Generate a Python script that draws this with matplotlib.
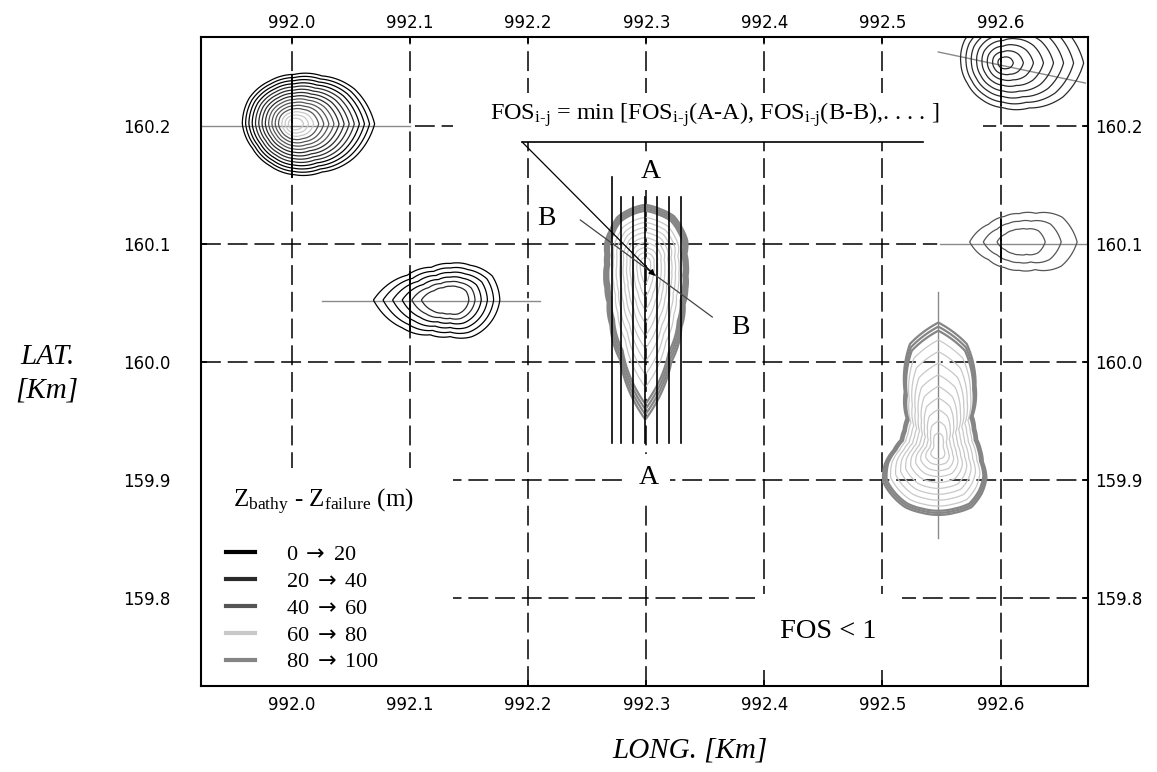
import numpy as np
import matplotlib
matplotlib.use("Agg")
import matplotlib.pyplot as plt
from matplotlib.lines import Line2D
from matplotlib.patches import Rectangle
import matplotlib.patheffects as pe
import matplotlib.transforms as mtransforms

# ---------------- data ----------------
x_ticks = [992.0, 992.1, 992.2, 992.3, 992.4, 992.5, 992.6]
y_ticks = [159.8, 159.9, 160.0, 160.1, 160.2]
x_limits = (991.923, 992.674)
y_limits = (159.7254, 160.2754)

# legend classes: Z_bathy - Z_failure (m)
class_labels = ["0 $\\mathsf{\\rightarrow}$ 20", "20 $\\mathsf{\\rightarrow}$ 40",
                "40 $\\mathsf{\\rightarrow}$ 60", "60 $\\mathsf{\\rightarrow}$ 80",
                "80 $\\mathsf{\\rightarrow}$ 100"]
class_bounds = [0, 20, 40, 60, 80, 100]
class_colors = ["#000000", "#2a2a2a", "#555555", "#c8c8c8", "#858585"]

# unstable cells (contour blobs): centre, outline radius (m) at equal angular steps from east, ccw
blob_cx = [992.002, 992.134, 992.6023, 992.6158, 992.5473, 992.2992]
blob_cy = [160.2017, 160.0525, 160.2534, 160.1017, 159.9254, 160.0822]
blob_radii_m = [
    [68, 59, 47, 42, 42, 44, 44, 41, 41, 43, 47, 58],
    [42, 41, 34, 31, 32, 42, 65, 47, 34, 31, 36, 39],
    [68, 59, 47, 38, 38, 38, 36, 35, 36, 38, 44, 58],
    [49, 42, 28, 24, 25, 30, 42, 30, 25, 24, 27, 41],
    [36, 34, 36, 41, 63, 93, 108, 93, 57, 38, 34, 33,
     38, 47, 54, 55, 56, 55, 55, 55, 56, 52, 47, 39],
    [36, 36, 41, 44, 48, 49, 51, 49, 47, 42, 39, 35,
     34, 36, 39, 45, 59, 83, 131, 85, 61, 47, 41, 37],
]
blob_edge_value = [1, 2, 21, 42, 82, 84]
blob_centre_value = [80, 42, 41, 56.5, 60, 60]
blob_levels = [
    [1, 6, 11, 16, 21, 26, 31, 36, 41, 46, 51, 56, 61, 66, 71],
    [2, 7, 12, 17, 22, 27],
    [21, 23.5, 26, 28.5, 31, 33.5, 36, 38.5],
    [42, 46, 50],
    [63, 65, 67, 69, 71, 73, 75, 77, 79, 80.6, 81.3, 82],
    [63, 65, 67, 69, 71, 73, 75, 77, 79, 81.6, 82.4, 83.2, 84],
]

# section lines through the cells
grey_sections = [
    ([991.923, 992.1], [160.2, 160.2]),
    ([992.0257, 992.2102], [160.0517, 160.0517]),
    ([992.5472, 992.6717], [160.2627, 160.2364]),
    ([992.549, 992.674], [160.1, 160.1]),
    ([992.5473, 992.5473], [160.0593, 159.8508]),
]
black_sections = [
    ([992.0, 992.0], [160.2432, 160.1568]),
    ([992.1, 992.1], [160.0763, 160.0271]),
    ([992.6, 992.6], [160.2754, 160.2178]),
    ([992.6, 992.6], [160.1203, 160.0847]),
]
aa_x = [992.271, 992.279, 992.289, 992.299, 992.309, 992.319, 992.329]
aa_top = [160.157, 160.140, 160.140, 160.140, 160.140, 160.140, 160.140]
aa_bottom = 159.931
bb_x = [992.2442, 992.3559]
bb_y = [160.1203, 160.0381]
pointer_start = (992.1949, 160.1864)
pointer_end = (992.3076, 160.0729)
underline_x = [992.1949, 992.5346]
underline_y = [160.1864, 160.1864]

# ---------------- style ----------------
plt.rcParams["mathtext.fontset"] = "custom"
plt.rcParams["mathtext.rm"] = "Liberation Serif"
plt.rcParams["mathtext.it"] = "Liberation Serif:italic"
plt.rcParams["mathtext.sf"] = "DejaVu Sans"
serif = "Liberation Serif"

fig = plt.figure(figsize=(11.57, 7.72), dpi=100)
ax = fig.add_axes([201 / 1157, 1 - 686 / 772, 887 / 1157, 649 / 772])
ax.set_xlim(*x_limits)
ax.set_ylim(*y_limits)


def class_color(v):
    for i in range(len(class_colors)):
        if class_bounds[i] <= v < class_bounds[i + 1]:
            return class_colors[i]
    return class_colors[-1]


for cx, cy, rad, ve, vc, levs in zip(blob_cx, blob_cy, blob_radii_m,
                                     blob_edge_value, blob_centre_value, blob_levels):
    angles = np.linspace(0, 2 * np.pi, len(rad), endpoint=False)
    rmax = max(rad) / 1000.0 * 1.3
    xs = np.linspace(cx - rmax, cx + rmax, 500)
    ys = np.linspace(cy - rmax, cy + rmax, 500)
    X, Y = np.meshgrid(xs, ys)
    dx = (X - cx) * 1000.0
    dy = (Y - cy) * 1000.0
    th = np.mod(np.arctan2(dy, dx), 2 * np.pi)
    R = np.interp(th, angles, np.array(rad, float), period=2 * np.pi)
    d = np.hypot(dx, dy) / R
    Z = ve + (vc - ve) * (1 - d)
    levs = sorted(levs)
    cols = [class_color(v) for v in levs]
    lws = [1.6 if v >= 80 else 0.9 for v in levs]
    ax.contour(X, Y, Z, levels=levs, colors=cols, linewidths=lws, zorder=2)

# grid
ax.set_xticks(x_ticks)
ax.set_yticks(y_ticks)
ax.set_xticklabels([f"{v:.1f}" for v in x_ticks])
ax.set_yticklabels([f"{v:.1f}" for v in y_ticks])
ax.grid(True, color="black", linestyle=(0, (13, 4.5)), linewidth=1.1)
ax.set_axisbelow(True)

# white masks (legend area and formula area)
ax.add_patch(Rectangle((0, 0), 0.284, 0.336, transform=ax.transAxes,
                       facecolor="white", edgecolor="none", zorder=1))
ax.add_patch(Rectangle((0.284, 0.838), 0.598, 0.076, transform=ax.transAxes,
                       facecolor="white", edgecolor="none", zorder=1))

for xs_, ys_ in grey_sections:
    ax.plot(xs_, ys_, color="#8a8a8a", lw=1.0, zorder=1.5,
            path_effects=[pe.withStroke(linewidth=4, foreground="white")])
for xs_, ys_ in black_sections:
    ax.plot(xs_, ys_, color="black", lw=1.3, zorder=2.5)

for x, top in zip(aa_x, aa_top):
    ax.plot([x, x], [aa_bottom, top], color="black", lw=1.2, zorder=3)
ax.plot(bb_x, bb_y, color="#444444", lw=0.9, zorder=3)
ax.plot(underline_x, underline_y, color="black", lw=1.2, zorder=3)
ax.annotate("", xy=pointer_end, xytext=pointer_start,
            arrowprops=dict(arrowstyle="-|>", color="black", lw=0.9,
                            mutation_scale=9, shrinkA=0, shrinkB=0), zorder=3)

# texts
ax.text(992.168, 160.2051,
        "FOS$_{\\mathrm{i\u2010j}}$ = min [FOS$_{\\mathrm{i\u2010j}}$(A-A), "
        "FOS$_{\\mathrm{i\u2010j}}$(B-B),. . . . ]",
        family=serif, fontsize=17.5, ha="left", va="baseline", zorder=4)
ax.text(992.3035, 160.161, "A", family=serif, fontsize=20, ha="center", va="center",
        bbox=dict(facecolor="white", edgecolor="none", pad=4), zorder=4)
ax.text(992.3018, 159.9017, "A", family=serif, fontsize=20, ha="center", va="center",
        bbox=dict(facecolor="white", edgecolor="none", pad=8), zorder=4)
ax.text(992.2155, 160.122, "B", family=serif, fontsize=20, ha="center", va="center", zorder=4)
ax.text(992.3796, 160.0288, "B", family=serif, fontsize=20, ha="center", va="center", zorder=4)
ax.text(992.4541, 159.7712, "FOS < 1", family=serif, fontsize=20.5, ha="center", va="center",
        bbox=dict(facecolor="white", edgecolor="none", pad=18), zorder=4)

# legend
handles = [Line2D([0], [0], color=c, lw=3) for c in class_colors]
leg = ax.legend(handles, class_labels, loc="lower left", bbox_to_anchor=(0.0158, 0.004),
                borderaxespad=0, borderpad=0.5, frameon=False,
                prop={"family": serif, "size": 16}, handlelength=1.3,
                handletextpad=1.4, labelspacing=0.28)
leg.set_zorder(5)
ax.text(0.036, 0.2835, "Z$_{\\mathrm{bathy}}$ - Z$_{\\mathrm{failure}}$ (m)",
        transform=ax.transAxes, family=serif, fontsize=18, ha="left", va="center", zorder=5)

# axes styling
for s in ax.spines.values():
    s.set_linewidth(1.5)
    s.set_color("black")
    s.set_zorder(6)
ax.tick_params(axis="both", direction="in", length=4, width=1.2,
               top=True, right=True, labeltop=True, labelright=True,
               labelsize=12, colors="black")
ax.tick_params(axis="x", pad=7)
ax.tick_params(axis="y", pad=5)

off_left = mtransforms.ScaledTranslation(-17 / 72, 0, fig.dpi_scale_trans)
off_top = mtransforms.ScaledTranslation(0, -3.6 / 72, fig.dpi_scale_trans)
for t in ax.yaxis.get_major_ticks():
    t.label1.set_transform(t.label1.get_transform() + off_left)
for t in ax.xaxis.get_major_ticks():
    t.label2.set_transform(t.label2.get_transform() + off_top)

fig.text(47 / 1157, 1 - 357 / 772, "LAT.", family=serif, style="italic", fontsize=21,
         ha="center", va="center")
fig.text(47 / 1157, 1 - 390 / 772, "[Km]", family=serif, style="italic", fontsize=21,
         ha="center", va="center")
fig.text(690 / 1157, 1 - 750 / 772, "LONG. [Km]", family=serif, style="italic", fontsize=21,
         ha="center", va="center")

fig.savefig("out.png", dpi=100, facecolor="white")
